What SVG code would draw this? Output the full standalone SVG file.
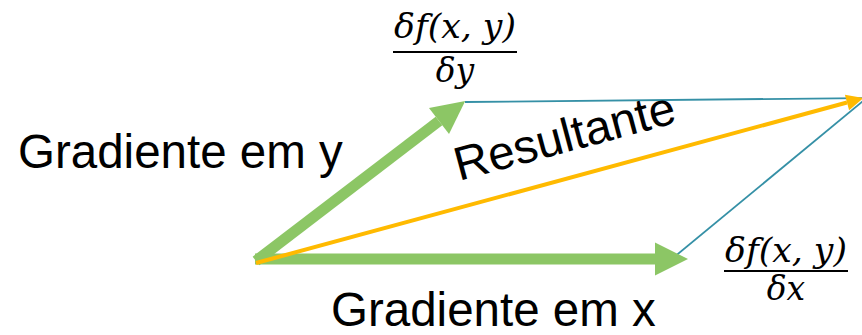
<svg xmlns="http://www.w3.org/2000/svg" width="862" height="335" viewBox="0 0 862 335">
<style>
.lbl{font-family:"Liberation Sans",Arial,sans-serif;font-size:47.5px;fill:#000}
.math{font-family:"DejaVu Serif","Liberation Serif",serif;font-style:italic;font-size:33px;fill:#000}
.green{stroke:#8CC665;stroke-width:11;fill:none}
.blue{stroke:#3590A6;stroke-width:1.8;fill:none}
.orange{stroke:#FFBA00;stroke-width:4;fill:none}
.frac{stroke:#000;stroke-width:2}
</style>
<defs>
<marker id="gh" markerUnits="userSpaceOnUse" markerWidth="34" markerHeight="34" refX="0" refY="16.5" orient="auto" overflow="visible">
<path d="M0,0 L33,16.5 L0,33 z" fill="#8CC665"/>
</marker>
<marker id="oh" markerUnits="userSpaceOnUse" markerWidth="18" markerHeight="16" refX="0" refY="8" orient="auto" overflow="visible">
<path d="M0,0 L17,8 L0,16 z" fill="#FFBA00"/>
</marker>
</defs>
<g id="connectors">
<line class="blue" x1="465" y1="102" x2="866" y2="98"/>
<line class="blue" x1="673" y1="258" x2="868" y2="97"/>
<line class="green" x1="256" y1="261" x2="439" y2="121" marker-end="url(#gh)"/>
<line class="green" x1="255" y1="259" x2="655" y2="259" marker-end="url(#gh)"/>
<line class="orange" x1="256" y1="263" x2="847" y2="102.5" marker-end="url(#oh)"/>
</g>
<g id="label-gy"><text class="lbl" x="18" y="168">Gradiente em y</text></g>
<g id="label-gx"><text class="lbl" x="331" y="326">Gradiente em x</text></g>
<g id="label-res"><text class="lbl" transform="translate(459,181) rotate(-15)">Resultante</text></g>
<g id="frac-y">
<text class="math" x="394" y="38" textLength="122" lengthAdjust="spacingAndGlyphs">δf(x, y)</text>
<line class="frac" x1="393" y1="52" x2="517" y2="52"/>
<text class="math" x="455" y="82" text-anchor="middle">δy</text>
</g>
<g id="frac-x">
<text class="math" x="725" y="262" textLength="122" lengthAdjust="spacingAndGlyphs">δf(x, y)</text>
<line class="frac" x1="724" y1="271" x2="848" y2="271"/>
<text class="math" x="786" y="300" text-anchor="middle">δx</text>
</g>
</svg>
